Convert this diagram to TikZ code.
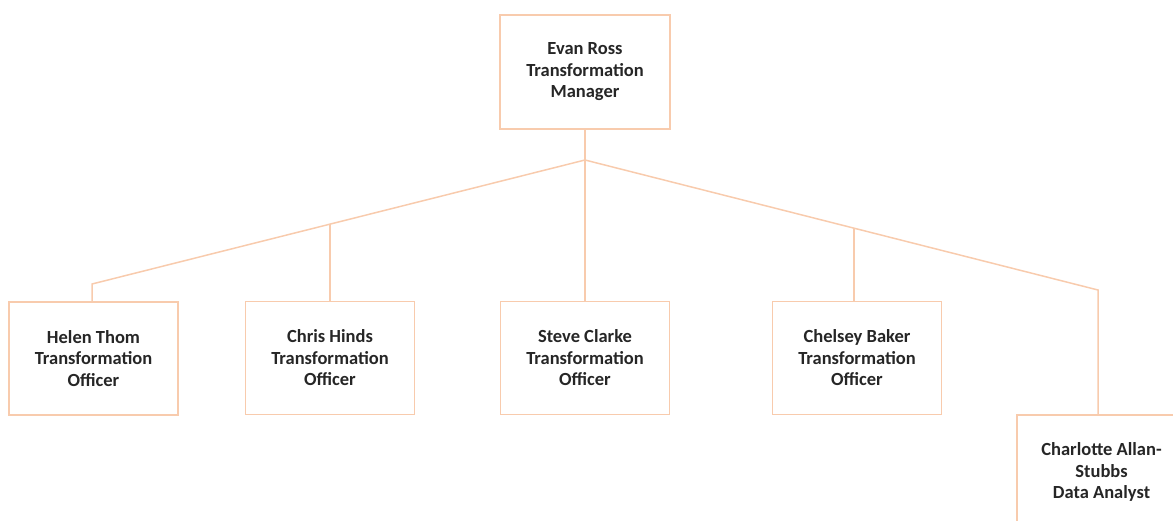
\documentclass[tikz,border=0pt]{standalone}
\usepackage{fontspec}
\setmainfont{Carlito}
\definecolor{peach}{HTML}{F8CBAD}
\definecolor{ink}{HTML}{262626}
\begin{document}
\begin{tikzpicture}[x=1pt,y=-1pt,
  box/.style={draw=peach, line width=1.5pt, fill=white, minimum width=169pt, minimum height=113pt,
    align=center, text=ink, font=\bfseries\fontsize{18.5}{21.5}\selectfont, inner sep=0pt},
  link/.style={draw=peach, line width=1.5pt}]
\useasboundingbox (0,0) rectangle (1173,520);
\clip (0,0) rectangle (1173,520);
\node[box, minimum width=170pt, minimum height=114pt] (top) at (585,72) {Evan Ross\\Transformation\\Manager};
\node[box] (helen) at (93.5,358.5) {Helen Thom\\Transformation\\Officer};
\node[box] (chris) at (330,358) {Chris Hinds\\Transformation\\Officer};
\node[box] (steve) at (585,358) {Steve Clarke\\Transformation\\Officer};
\node[box] (chelsey) at (857,358) {Chelsey Baker\\Transformation\\Officer};
\node[box, minimum height=114pt] (charlotte) at (1101.5,472) {Charlotte Allan-\\Stubbs\\Data Analyst};
\coordinate (J) at (585,160);
\coordinate (L) at (92,284);
\coordinate (R) at (1098,290);
\coordinate (j2) at (330,224);
\coordinate (j4) at (854,228);
\draw[link] (top.south) -- (J) -- (steve.north);
\draw[link] (J) -- (L) -- (L |- helen.north);
\draw[link] (J) -- (R) -- (R |- charlotte.north);
\draw[link] (j2) -- (j2 |- chris.north);
\draw[link] (j4) -- (j4 |- chelsey.north);
\end{tikzpicture}
\end{document}
